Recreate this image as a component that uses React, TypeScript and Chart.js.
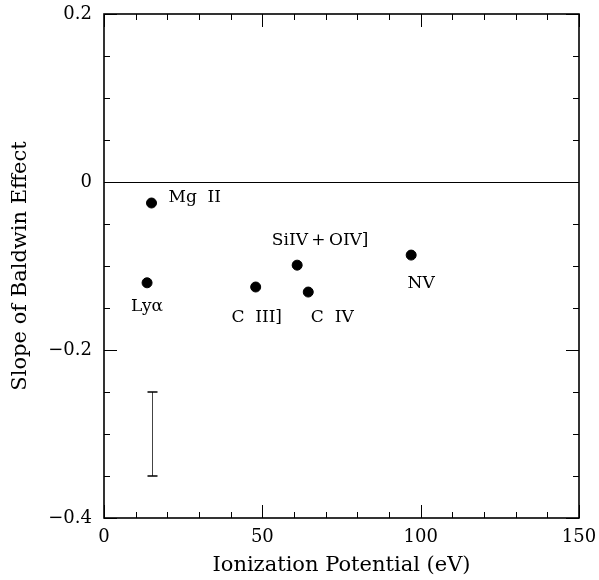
import React, { useEffect, useRef } from "react";
import { Chart, registerables } from "chart.js";

Chart.register(...registerables);

// Data
const lineNames = ["Mg  II", "Lyα", "C  III]", "SiIV\u2009+\u2009OIV]", "C  IV", "NV"];
const ionizationPotential = [15.0, 13.6, 47.9, 61.0, 64.5, 97.0];
const baldwinSlope = [-0.025, -0.12, -0.125, -0.099, -0.131, -0.087];
const errorBarX = [15];
const errorBarLow = [-0.35];
const errorBarHigh = [-0.25];
const xTickValues = [0, 50, 100, 150];
const yTickValues = [-0.4, -0.2, 0, 0.2];

// label placement (pixels relative to point): [dx, dy, align]
const labelPlacement: [number, number, CanvasTextAlign][] = [
  [17, -5, "left"],
  [0, 24, "center"],
  [1, 31, "center"],
  [23, -25, "center"],
  [24, 26, "center"],
  [10, 28, "center"],
];

const FONT = "'DejaVu Serif', 'Liberation Serif', serif";

const framePlugin = {
  id: "frameTicks",
  afterDatasetsDraw(chart: any) {
    const { ctx, chartArea: a, scales } = chart;
    const xs = scales.x;
    const ys = scales.y;
    ctx.save();
    ctx.strokeStyle = "#000";
    // zero line
    ctx.lineWidth = 1;
    const y0 = Math.round(ys.getPixelForValue(0)) + 0.5;
    ctx.beginPath();
    ctx.moveTo(a.left, y0);
    ctx.lineTo(a.right, y0);
    ctx.stroke();
    // error bar
    for (let i = 0; i < errorBarX.length; i++) {
      const px = Math.round(xs.getPixelForValue(errorBarX[i])) + 0.5;
      const pl = ys.getPixelForValue(errorBarLow[i]);
      const ph = ys.getPixelForValue(errorBarHigh[i]);
      ctx.lineWidth = 1;
      ctx.strokeStyle = "#444";
      ctx.beginPath();
      ctx.moveTo(px, pl);
      ctx.lineTo(px, ph);
      ctx.stroke();
      ctx.strokeStyle = "#000";
      ctx.lineWidth = 1.3;
      ctx.beginPath();
      ctx.moveTo(px - 5, pl);
      ctx.lineTo(px + 5, pl);
      ctx.moveTo(px - 5, ph);
      ctx.lineTo(px + 5, ph);
      ctx.stroke();
    }
    // ticks
    ctx.strokeStyle = "#000";
    ctx.lineWidth = 1;
    for (let v = 0; v <= 150 + 1e-9; v += 10) {
      const major = Math.abs(v % 50) < 1e-9;
      const len = major ? 13 : 6;
      const px = Math.round(xs.getPixelForValue(v)) + 0.5;
      ctx.beginPath();
      ctx.moveTo(px, a.bottom);
      ctx.lineTo(px, a.bottom - len);
      ctx.moveTo(px, a.top);
      ctx.lineTo(px, a.top + len);
      ctx.stroke();
    }
    for (let k = -8; k <= 4; k++) {
      const v = k * 0.05;
      const major = k % 4 === 0;
      const len = major ? 13 : 6;
      const py = Math.round(ys.getPixelForValue(v)) + 0.5;
      ctx.beginPath();
      ctx.moveTo(a.left, py);
      ctx.lineTo(a.left + len, py);
      ctx.moveTo(a.right, py);
      ctx.lineTo(a.right - len, py);
      ctx.stroke();
    }
    // frame
    ctx.lineWidth = 1.6;
    ctx.strokeRect(a.left, a.top, a.right - a.left, a.bottom - a.top);
    // labels
    ctx.fillStyle = "#000";
    ctx.font = `17px ${FONT}`;
    ctx.textBaseline = "middle";
    for (let i = 0; i < lineNames.length; i++) {
      const px = xs.getPixelForValue(ionizationPotential[i]);
      const py = ys.getPixelForValue(baldwinSlope[i]);
      const [dx, dy, al] = labelPlacement[i];
      ctx.textAlign = al;
      ctx.fillText(lineNames[i], px + dx, py + dy);
    }
    ctx.restore();
  },
};

export default function App() {
  const ref = useRef<HTMLCanvasElement | null>(null);
  useEffect(() => {
    if (!ref.current) return;
    const chart = new Chart(ref.current, {
      type: "scatter",
      data: {
        datasets: [
          {
            data: ionizationPotential.map((x, i) => ({ x, y: baldwinSlope[i] })),
            backgroundColor: "#000",
            borderColor: "#000",
            pointRadius: 5,
            pointHoverRadius: 5,
          },
        ],
      },
      options: {
        animation: false,
        responsive: false,
        maintainAspectRatio: false,
        layout: { padding: { top: 14, right: 20, left: 0, bottom: 0 } },
        plugins: { legend: { display: false }, tooltip: { enabled: false } },
        scales: {
          x: {
            type: "linear",
            min: 0,
            max: 150,
            afterFit(s: any) {
              s.height = 62;
              s.paddingLeft = 0;
              s.paddingRight = 0;
            },
            afterBuildTicks(s: any) {
              s.ticks = xTickValues.map((v) => ({ value: v }));
            },
            grid: { display: false, drawTicks: false },
            border: { display: false },
            ticks: {
              color: "#000",
              font: { family: FONT, size: 18 },
              padding: 9,
              maxRotation: 0,
            },
            title: {
              display: true,
              text: "Ionization Potential (eV)",
              color: "#000",
              font: { family: FONT, size: 21 },
              padding: { top: 0, bottom: 2 },
            },
          },
          y: {
            type: "linear",
            min: -0.4,
            max: 0.2,
            afterFit(s: any) {
              s.width = 104;
              s.paddingTop = 0;
              s.paddingBottom = 0;
            },
            afterBuildTicks(s: any) {
              s.ticks = yTickValues.map((v) => ({ value: v }));
            },
            grid: { display: false, drawTicks: false },
            border: { display: false },
            ticks: {
              color: "#000",
              font: { family: FONT, size: 18 },
              padding: 12,
              callback: (v: any) => {
                const n = Number(v);
                if (Math.abs(n) < 1e-9) return "0";
                return (n < 0 ? "\u2212" : "") + Math.abs(n).toFixed(1);
              },
            },
            title: {
              display: true,
              text: "Slope of Baldwin Effect",
              color: "#000",
              font: { family: FONT, size: 21 },
              padding: { top: 8, bottom: 0 },
            },
          },
        },
      },
      plugins: [framePlugin],
    });
    return () => chart.destroy();
  }, []);
  return (
    <div style={{ position: "fixed", left: 0, top: 0, width: 599, height: 580, background: "#fff" }}>
      <canvas ref={ref} width={599} height={580} style={{ display: "block" }} />
    </div>
  );
}
